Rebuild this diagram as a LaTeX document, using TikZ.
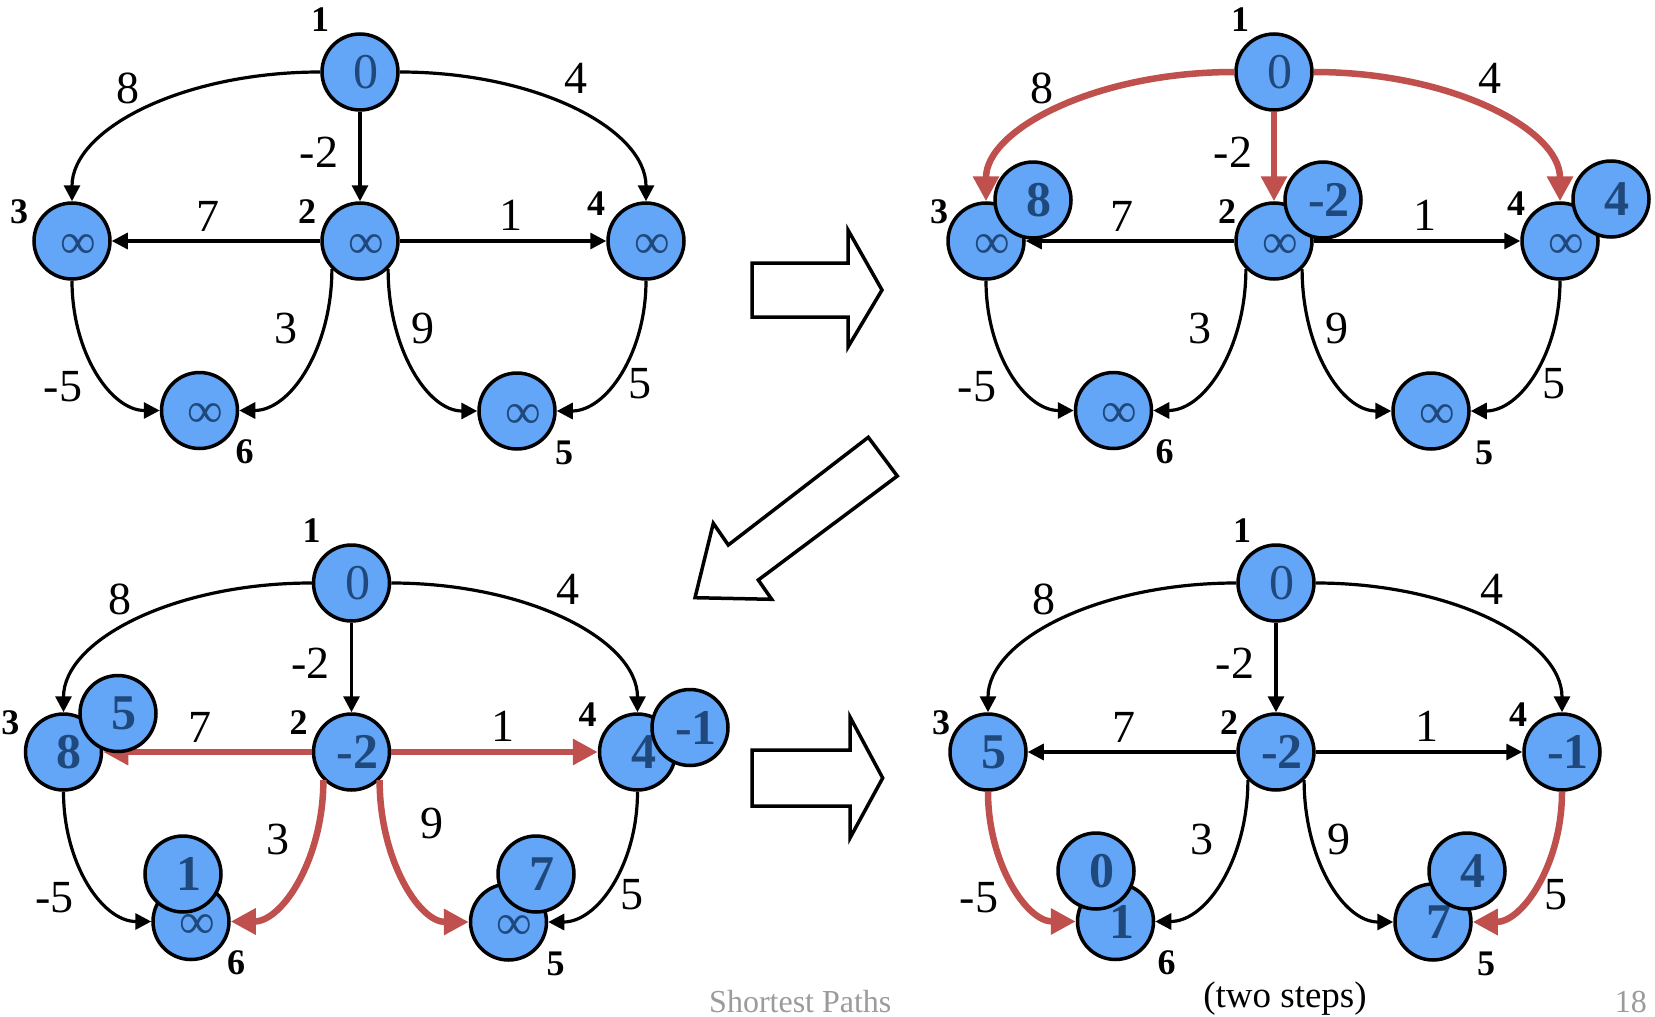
\documentclass[tikz,border=0pt]{standalone}
\usepackage{fontspec}
\setmainfont{Liberation Serif}
\usetikzlibrary{arrows.meta}
\definecolor{nodeblue}{RGB}{99,165,246}
\definecolor{valblue}{RGB}{31,73,125}
\definecolor{edgered}{RGB}{192,80,77}
\definecolor{footgray}{RGB}{155,155,155}
\newcommand\valfont{\fontsize{50}{50}\selectfont}
\newcommand\elfont{\fontsize{46}{46}\selectfont}
\newcommand\idfont{\fontsize{36}{36}\selectfont\bfseries}
\newcommand\footfont{\fontsize{32}{32}\selectfont}
\newcommand\stepfont{\fontsize{37}{37}\selectfont}
\newcommand\infval{\raisebox{-5pt}[\height][\depth]{∞}}
\tikzset{
  vtx/.style={circle, draw=black, line width=3.5pt, fill=nodeblue, minimum size=76pt,
              inner sep=0pt, text=valblue, font=\valfont},
  blk/.style={draw=black, line width=3.2pt, -{Triangle[length=16pt,width=16pt]}},
  redge/.style={draw=edgered, line width=6.5pt, -{Triangle[length=25pt,width=25pt]}},
  elab/.style={font=\elfont, inner sep=0pt},
  idlab/.style={font=\idfont, inner sep=0pt},
  bigarrow/.style={draw=black, line width=3.5pt, fill=white, line join=miter},
  eAC/.style={blk}, eAD/.style={blk}, eAB/.style={blk}, eBC/.style={blk},
  eBD/.style={blk}, eCF/.style={blk}, eBF/.style={blk}, eBE/.style={blk},
  eDE/.style={blk},
}
% nodes: prefix, values of vertices 1..6
\newcommand\drawnodes[7]{%
  \node[vtx] (#1-1) at (360,72) {\kern12pt\relax #2};
  \node[vtx] (#1-2) at (360,241) {\kern12pt\relax #3};
  \node[vtx] (#1-3) at (72,241) {\kern12pt\relax #4};
  \node[vtx] (#1-4) at (646,241) {\kern12pt\relax #5};
  \node[vtx] (#1-5) at (517,411) {\kern12pt\relax #6};
  \node[vtx] (#1-6) at (199.5,410.5) {\kern12pt\relax #7};
}
\newcommand\drawedges[1]{%
  \draw[eAC] (#1-1.west) .. controls +(-138,0) and +(0,-72) .. (#1-3.north);
  \draw[eAD] (#1-1.east) .. controls +(137,0) and +(0,-72) .. (#1-4.north);
  \draw[eAB] (#1-1.south) -- (#1-2.north);
  \draw[eBC] (#1-2.west) -- (#1-3.east);
  \draw[eBD] (#1-2.east) -- (#1-4.west);
  \draw[eCF] (#1-3.south) .. controls +(0,72) and +(-49,0) .. (#1-6.west);
  \draw[eBF] (#1-2.225) .. controls +(0,78) and +(52,0) .. (#1-6.east);
  \draw[eBE] (#1-2.315) .. controls +(0,79) and +(-50,0) .. (#1-5.west);
  \draw[eDE] (#1-4.south) .. controls +(0,72) and +(50,0) .. (#1-5.east);
}
% labels: prefix, x shift of the vertex numbers, position of the label 9
\newcommand\drawlabels[3]{%
  \node[elab] (#1-w8) at (128,88) {8};
  \node[elab] (#1-w4) at (576,78) {4};
  \node[elab] (#1-w2) at (319,152) {-2};
  \node[elab] (#1-w7) at (208,216) {7};
  \node[elab] (#1-w1) at (511,215) {1};
  \node[elab] (#1-w3) at (286,328) {3};
  \node[elab] (#1-w9) at #3 {9};
  \node[elab] (#1-wm5) at (63,387) {-5};
  \node[elab] (#1-w5) at (640,384) {5};
  \begin{scope}[xshift=#2]
  \node[idlab] (#1-i1) at (320,20) {1};
  \node[idlab] (#1-i2) at (307,212) {2};
  \node[idlab] (#1-i3) at (19,212) {3};
  \node[idlab] (#1-i4) at (596,204) {4};
  \node[idlab] (#1-i6) at (244.5,452) {6};
  \node[idlab] (#1-i5) at (564,453) {5};
  \end{scope}
}
\begin{document}
\begin{tikzpicture}[x=1pt,y=-1pt]
\useasboundingbox (0,0) rectangle (1655,1017);
\fill[white] (0,0) rectangle (1655,1017);

% ---------- top left ----------
\begin{scope}
  \drawnodes{A}{0}{\infval}{\infval}{\infval}{\infval}{\infval}
  \drawedges{A}
  \drawlabels{A}{0pt}{(423,328)}
\end{scope}

% ---------- top right ----------
\begin{scope}[shift={(914,0)}]
  \tikzset{eAC/.style={redge}, eAD/.style={redge}, eAB/.style={redge}}
  \drawnodes{B}{0}{\infval}{\infval}{\infval}{\infval}{\infval}
  \drawedges{B}
  \drawlabels{B}{6pt}{(423,328)}
  \node[vtx] (B-3o) at (119,200) {\kern12pt\relax\bfseries 8};
  \node[vtx] (B-2o) at (409,200) {\kern12pt\relax\bfseries -2};
  \node[vtx] (B-4o) at (697,199) {\kern12pt\relax\bfseries 4};
\end{scope}

% ---------- bottom left ----------
\begin{scope}[shift={(-8.5,511)}]
  \tikzset{eBC/.style={redge}, eBD/.style={redge}, eBF/.style={redge}, eBE/.style={redge}}
  \drawnodes{C}{0}{\bfseries -2}{\bfseries 8}{\bfseries 4}{\infval}{\infval}
  \drawedges{C}
  \drawlabels{C}{0pt}{(440,312)}
  \node[vtx] (C-3o) at (126.5,202.5) {\kern12pt\relax\bfseries 5};
  \node[vtx] (C-4o) at (698.5,216.5) {\kern12pt\relax\bfseries -1};
  \node[vtx] (C-6o) at (191.5,363) {\kern12pt\relax\bfseries 1};
  \node[vtx] (C-5o) at (544.5,363) {\kern12pt\relax\bfseries 7};
\end{scope}

% ---------- bottom right ----------
\begin{scope}[shift={(916,511)}]
  \tikzset{eCF/.style={redge}, eDE/.style={redge}}
  \drawnodes{D}{0}{\bfseries -2}{\bfseries 5}{\bfseries -1}{\bfseries 7}{\bfseries 1}
  \drawedges{D}
  \drawlabels{D}{6pt}{(423,328)}
  \node[vtx] (D-6o) at (180,360) {\kern12pt\relax\bfseries 0};
  \node[vtx] (D-5o) at (551,360) {\kern12pt\relax\bfseries 4};
\end{scope}

% ---------- block arrows ----------
\draw[bigarrow] (752,263) -- (848,263) -- (848,230) -- (882,290) -- (848,347)
  -- (848,317) -- (752,317) -- cycle;
\draw[bigarrow] (868.3,437.3) -- (897.3,476) -- (758.3,580) -- (771.7,599.3)
  -- (695,597.7) -- (713.3,523.3) -- (728.3,545) -- cycle;
\draw[bigarrow] (752,750) -- (850,750) -- (850,717) -- (882.7,778) -- (850,838)
  -- (850,806) -- (752,806) -- cycle;

% ---------- footer ----------
\node[font=\footfont, text=footgray, anchor=base west, inner sep=0pt] (foot) at (709,1012) {Shortest Paths};
\node[font=\stepfont, anchor=base, inner sep=0pt] (twosteps) at (1285,1007) {(two steps)};
\node[font=\footfont, text=footgray, anchor=base east, inner sep=0pt] (pagenum) at (1647,1012) {18};
\end{tikzpicture}
\end{document}
